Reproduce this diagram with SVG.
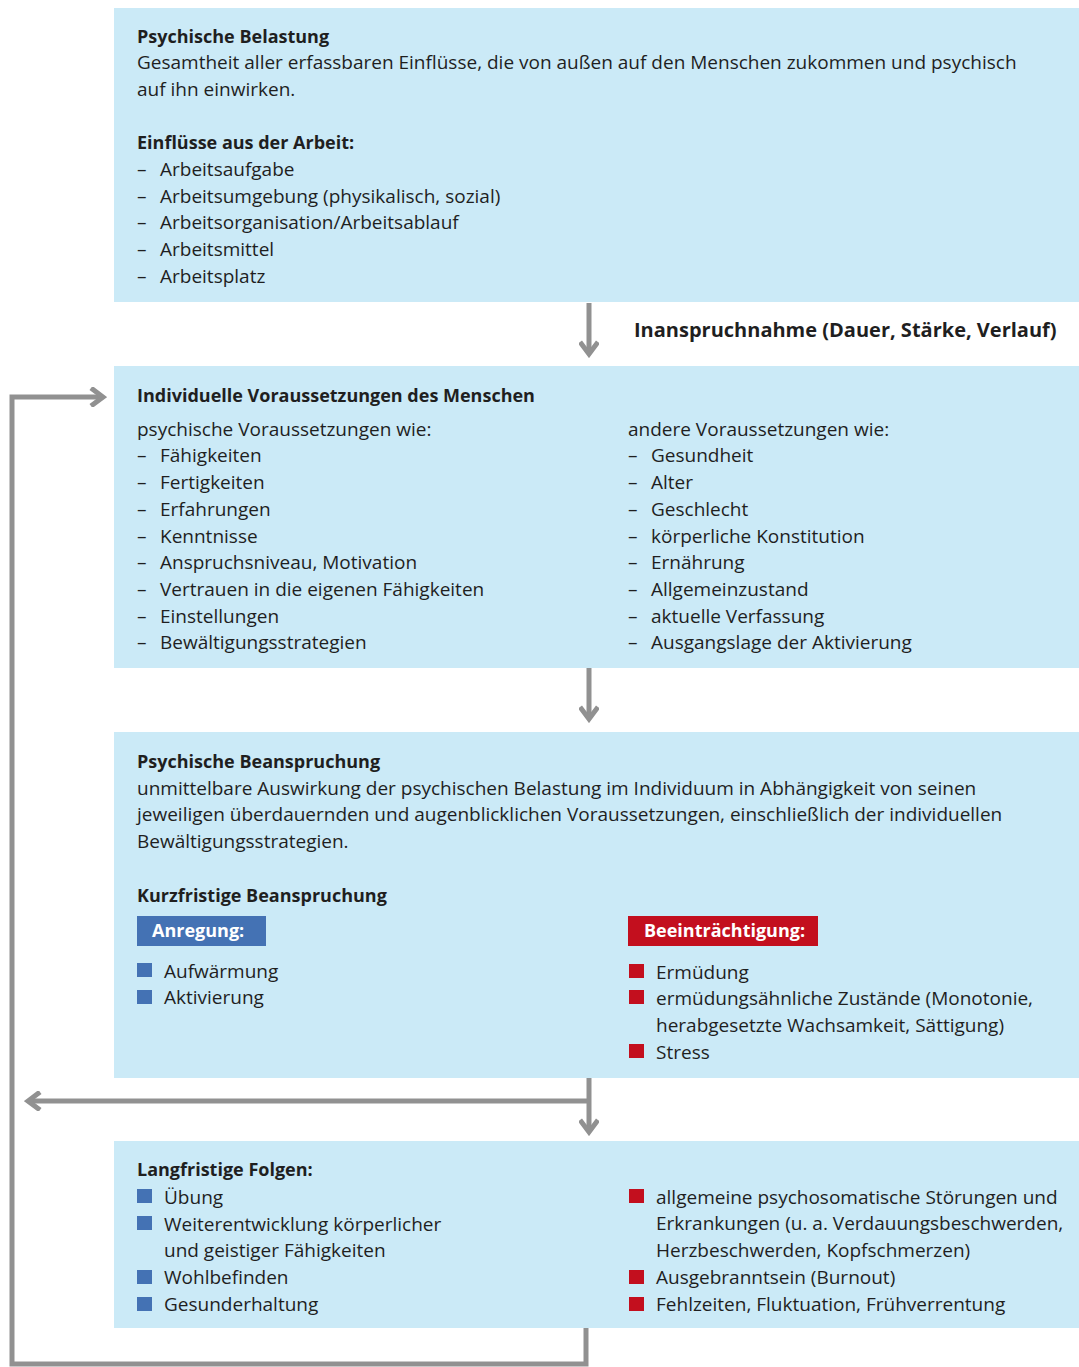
<svg xmlns="http://www.w3.org/2000/svg" width="1079" height="1367" viewBox="0 0 1079 1367">
<style>
.box{fill:#cbeaf7}
text{font-family:"Open Sans","Noto Sans","Liberation Sans",sans-serif;font-size:19px;fill:#1f1f1f}
.b{font-weight:700;font-size:18px}
.lbl{font-weight:700;font-size:20px}
.w{fill:#ffffff;font-weight:700;font-size:18px}
.ln{fill:none;stroke:#919191;stroke-width:5}
.bl{fill:#4472b4}
.rd{fill:#c30f1e}
</style>
<defs>
<marker id="chev" viewBox="0 0 20 20" refX="16" refY="10" markerWidth="20" markerHeight="20" markerUnits="userSpaceOnUse" orient="auto">
<path d="M4 1 L16 10 L4 19" fill="none" stroke="#919191" stroke-width="5"/>
</marker>
</defs>

<g id="connectors">
<line class="ln" x1="589" y1="303" x2="589" y2="354" marker-end="url(#chev)"/>
<line class="ln" x1="589" y1="668" x2="589" y2="719" marker-end="url(#chev)"/>
<line class="ln" x1="589" y1="1078" x2="589" y2="1132" marker-end="url(#chev)"/>
<polyline class="ln" points="589,1101 28,1101" marker-end="url(#chev)"/>
<polyline class="ln" points="586,1328 586,1364 12,1364 12,397 103,397" marker-end="url(#chev)"/>
<text class="lbl" x="634" y="337">Inanspruchnahme (Dauer, Stärke, Verlauf)</text>
</g>

<g id="belastung">
<rect class="box" x="114" y="8" width="965" height="294"/>
<text class="b" x="137" y="43">Psychische Belastung</text>
<text x="137" y="69">Gesamtheit aller erfassbaren Einflüsse, die von außen auf den Menschen zukommen und psychisch</text>
<text x="137" y="96">auf ihn einwirken.</text>
<text class="b" x="137" y="149">Einflüsse aus der Arbeit:</text>
<text x="137" y="176">–</text><text x="160" y="176">Arbeitsaufgabe</text>
<text x="137" y="203">–</text><text x="160" y="203">Arbeitsumgebung (physikalisch, sozial)</text>
<text x="137" y="229">–</text><text x="160" y="229">Arbeitsorganisation/Arbeitsablauf</text>
<text x="137" y="256">–</text><text x="160" y="256">Arbeitsmittel</text>
<text x="137" y="283">–</text><text x="160" y="283">Arbeitsplatz</text>
</g>

<g id="voraussetzungen">
<rect class="box" x="114" y="366" width="965" height="302"/>
<text class="b" x="137" y="402">Individuelle Voraussetzungen des Menschen</text>
<text x="137" y="436">psychische Voraussetzungen wie:</text>
<text x="137" y="462">–</text><text x="160" y="462">Fähigkeiten</text>
<text x="137" y="489">–</text><text x="160" y="489">Fertigkeiten</text>
<text x="137" y="516">–</text><text x="160" y="516">Erfahrungen</text>
<text x="137" y="543">–</text><text x="160" y="543">Kenntnisse</text>
<text x="137" y="569">–</text><text x="160" y="569">Anspruchsniveau, Motivation</text>
<text x="137" y="596">–</text><text x="160" y="596">Vertrauen in die eigenen Fähigkeiten</text>
<text x="137" y="623">–</text><text x="160" y="623">Einstellungen</text>
<text x="137" y="649">–</text><text x="160" y="649">Bewältigungsstrategien</text>
<text x="628" y="436">andere Voraussetzungen wie:</text>
<text x="628" y="462">–</text><text x="651" y="462">Gesundheit</text>
<text x="628" y="489">–</text><text x="651" y="489">Alter</text>
<text x="628" y="516">–</text><text x="651" y="516">Geschlecht</text>
<text x="628" y="543">–</text><text x="651" y="543">körperliche Konstitution</text>
<text x="628" y="569">–</text><text x="651" y="569">Ernährung</text>
<text x="628" y="596">–</text><text x="651" y="596">Allgemeinzustand</text>
<text x="628" y="623">–</text><text x="651" y="623">aktuelle Verfassung</text>
<text x="628" y="649">–</text><text x="651" y="649">Ausgangslage der Aktivierung</text>
</g>

<g id="beanspruchung">
<rect class="box" x="114" y="732" width="965" height="346"/>
<text class="b" x="137" y="768">Psychische Beanspruchung</text>
<text x="137" y="795">unmittelbare Auswirkung der psychischen Belastung im Individuum in Abhängigkeit von seinen</text>
<text x="137" y="821">jeweiligen überdauernden und augenblicklichen Voraussetzungen, einschließlich der individuellen</text>
<text x="137" y="848">Bewältigungsstrategien.</text>
<text class="b" x="137" y="902">Kurzfristige Beanspruchung</text>
<rect class="bl" x="137" y="916" width="129" height="30"/>
<text class="w" x="152" y="937">Anregung:</text>
<rect class="bl" x="137" y="963" width="15" height="14"/>
<text x="164" y="978">Aufwärmung</text>
<rect class="bl" x="137" y="990" width="15" height="14"/>
<text x="164" y="1004">Aktivierung</text>
<rect class="rd" x="628" y="916" width="190" height="30"/>
<text class="w" x="644" y="937">Beeinträchtigung:</text>
<rect class="rd" x="629" y="964" width="15" height="14"/>
<text x="656" y="979">Ermüdung</text>
<rect class="rd" x="629" y="990" width="15" height="14"/>
<text x="656" y="1005">ermüdungsähnliche Zustände (Monotonie,</text>
<text x="656" y="1032">herabgesetzte Wachsamkeit, Sättigung)</text>
<rect class="rd" x="629" y="1044" width="15" height="14"/>
<text x="656" y="1059">Stress</text>
</g>

<g id="folgen">
<rect class="box" x="114" y="1141" width="965" height="187"/>
<text class="b" x="137" y="1176">Langfristige Folgen:</text>
<rect class="bl" x="137" y="1189" width="15" height="14"/>
<text x="164" y="1204">Übung</text>
<rect class="bl" x="137" y="1216" width="15" height="14"/>
<text x="164" y="1231">Weiterentwicklung körperlicher</text>
<text x="164" y="1257">und geistiger Fähigkeiten</text>
<rect class="bl" x="137" y="1270" width="15" height="14"/>
<text x="164" y="1284">Wohlbefinden</text>
<rect class="bl" x="137" y="1297" width="15" height="14"/>
<text x="164" y="1311">Gesunderhaltung</text>
<rect class="rd" x="629" y="1189" width="15" height="14"/>
<text x="656" y="1204">allgemeine psychosomatische Störungen und</text>
<text x="656" y="1230">Erkrankungen (u. a. Verdauungsbeschwerden,</text>
<text x="656" y="1257">Herzbeschwerden, Kopfschmerzen)</text>
<rect class="rd" x="629" y="1270" width="15" height="14"/>
<text x="656" y="1284">Ausgebranntsein (Burnout)</text>
<rect class="rd" x="629" y="1297" width="15" height="14"/>
<text x="656" y="1311">Fehlzeiten, Fluktuation, Frühverrentung</text>
</g>
</svg>
